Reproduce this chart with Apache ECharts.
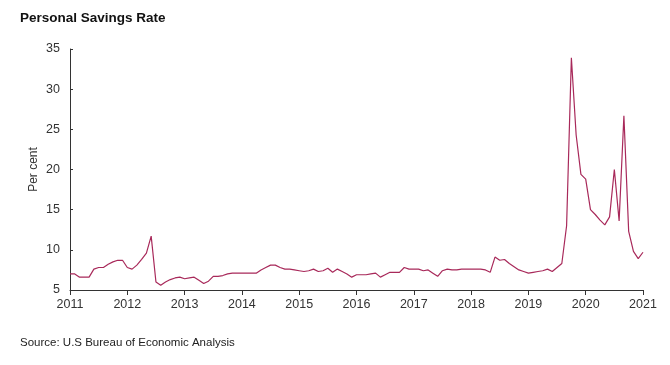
<!DOCTYPE html>
<html>
<head>
<meta charset="utf-8">
<script src="https://cdn.jsdelivr.net/npm/echarts@6/dist/echarts.min.js"></script>
<style>
html,body{margin:0;padding:0;background:#fff;}
#c{width:670px;height:365px;}
</style>
</head>
<body>
<div id="c"></div>
<script>
// Monthly, Jan 2011 .. Jan 2021
const startYear = 2011;
const savingsRate = [
  7.0, 7.0, 6.6, 6.6, 6.6, 7.6, 7.8, 7.8, 8.2, 8.5, 8.7, 8.7,
  7.8, 7.6, 8.1, 8.8, 9.6, 11.7, 6.0, 5.6, 6.0, 6.3, 6.5, 6.6,
  6.4, 6.5, 6.6, 6.2, 5.8, 6.1, 6.7, 6.7, 6.8, 7.0, 7.1, 7.1,
  7.1, 7.1, 7.1, 7.1, 7.5, 7.8, 8.1, 8.1, 7.8, 7.6, 7.6, 7.5,
  7.4, 7.3, 7.4, 7.6, 7.3, 7.4, 7.7, 7.2, 7.6, 7.3, 7.0, 6.6,
  6.9, 6.9, 6.9, 7.0, 7.1, 6.6, 6.9, 7.2, 7.2, 7.2, 7.8, 7.6,
  7.6, 7.6, 7.4, 7.5, 7.1, 6.7, 7.4, 7.6, 7.5, 7.5, 7.6, 7.6,
  7.6, 7.6, 7.6, 7.5, 7.2, 9.1, 8.7, 8.8, 8.3, 7.9, 7.5, 7.3,
  7.1, 7.2, 7.3, 7.4, 7.6, 7.3, 7.8, 8.3, 13.0, 33.9, 24.3, 19.4,
  18.8, 15.0, 14.4, 13.7, 13.1, 14.1, 20.0, 13.6, 26.7, 12.3, 9.8, 8.9,
  9.7
];
const xTicks = [2011, 2012, 2013, 2014, 2015, 2016, 2017, 2018, 2019, 2020, 2021];
const yTicks = [5, 10, 15, 20, 25, 30, 35];
const titleText = 'Personal Savings Rate';
const yAxisName = 'Per cent';
const sourceText = 'Source: U.S Bureau of Economic Analysis';

const seriesData = savingsRate.map((v, i) => [startYear + i / 12, v]);

const chart = echarts.init(document.getElementById('c'), null, {renderer: 'canvas'});
const font = 'Liberation Sans, Arial, sans-serif';
chart.setOption({
  animation: false,
  backgroundColor: '#ffffff',
  title: [{
    text: titleText,
    left: 20, top: 11, padding: 0,
    textStyle: {fontFamily: font, fontSize: 13.5, fontWeight: 'bold', color: '#111'}
  }, {
    text: sourceText,
    left: 20, top: 337, padding: 0,
    textStyle: {fontFamily: font, fontSize: 11.5, fontWeight: 'normal', color: '#222'}
  }],
  grid: {left: 70, right: 27, top: 49, bottom: 75},
  xAxis: {
    type: 'value',
    min: xTicks[0], max: xTicks[xTicks.length - 1], interval: 1,
    axisLine: {show: true, lineStyle: {color: '#333', width: 1}},
    axisTick: {show: true, length: 5, lineStyle: {color: '#333'}},
    splitLine: {show: false},
    axisLabel: {
      fontFamily: font, fontSize: 12.5, color: '#333', margin: 8,
      formatter: v => String(Math.round(v))
    }
  },
  yAxis: {
    type: 'value',
    min: yTicks[0], max: yTicks[yTicks.length - 1], interval: 5,
    name: yAxisName,
    nameLocation: 'middle',
    nameGap: 30,
    nameMoveOverlap: false,
    nameTextStyle: {fontFamily: font, fontSize: 12, color: '#333'},
    axisLine: {show: true, lineStyle: {color: '#333', width: 1}},
    axisTick: {show: true, inside: true, length: 3, lineStyle: {color: '#333'}},
    splitLine: {show: false},
    axisLabel: {fontFamily: font, fontSize: 12.5, color: '#333', margin: 10}
  },
  series: [{
    type: 'line',
    data: seriesData,
    showSymbol: false,
    symbol: 'none',
    lineStyle: {color: '#a8295a', width: 1.2},
    itemStyle: {color: '#a8295a'}
  }]
});
</script>
</body>
</html>
